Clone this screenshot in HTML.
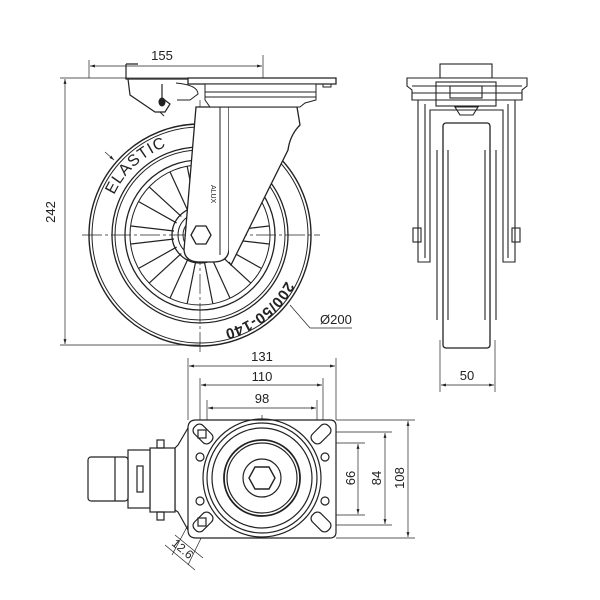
<!DOCTYPE html>
<html><head><style>html,body{margin:0;padding:0;background:#fff}svg{display:block}</style></head>
<body>
<svg width="600" height="600" viewBox="0 0 600 600" xmlns="http://www.w3.org/2000/svg" font-family="Liberation Sans, sans-serif" fill="none" stroke="#222" stroke-width="1">
<defs>
<marker id="a" viewBox="0 0 10 10" refX="10" refY="5" markerWidth="7" markerHeight="7" orient="auto-start-reverse"><path d="M0,2 L10,5 L0,8z" fill="#222" stroke="none"/></marker>
<path id="elp" d="M 114 195 A 95 95 0 0 1 168 146"/>
<path id="tp" d="M 286 281 A 97 97 0 0 1 212 332"/>
</defs>
<g stroke-width="0.7">
<line x1="89" y1="60" x2="89" y2="78"/><line x1="263" y1="55" x2="263" y2="85"/>
<line x1="90" y1="66" x2="262" y2="66" marker-start="url(#a)" marker-end="url(#a)"/>
<line x1="60" y1="78" x2="190" y2="78"/><line x1="60" y1="345" x2="200" y2="345"/>
<line x1="65" y1="79" x2="65" y2="344" marker-start="url(#a)" marker-end="url(#a)"/>
<line x1="82" y1="235" x2="320" y2="235" stroke-dasharray="20,3,3,3"/>
<line x1="200" y1="100" x2="200" y2="352" stroke-dasharray="20,3,3,3"/>
<line x1="290" y1="305" x2="310" y2="328"/><line x1="310" y1="328" x2="352" y2="328"/>
<line x1="105" y1="152" x2="114" y2="160" marker-end="url(#a)"/>
</g>
<g fill="#222" stroke="none" font-size="13">
<text x="162" y="60" text-anchor="middle">155</text>
<text transform="translate(55,212) rotate(-90)" text-anchor="middle">242</text>
<text x="320" y="324">Ø200</text>
<text font-size="16" letter-spacing="1"><textPath href="#elp" startOffset="0">ELASTIC</textPath></text>
<text font-size="15" font-weight="bold" letter-spacing="0.5"><textPath href="#tp" startOffset="0">200/50-140</textPath></text>
</g>
<circle cx="200" cy="235" r="111" stroke-width="1.4"/>
<circle cx="200" cy="235" r="108"/>
<circle cx="200" cy="235" r="88" stroke-width="1.3"/>
<circle cx="200" cy="235" r="85"/>
<circle cx="200" cy="235" r="75" stroke-width="1.3"/>
<circle cx="200" cy="235" r="70"/>
<circle cx="200" cy="235" r="28" stroke-width="1.3"/>
<circle cx="200" cy="235" r="22"/>
<circle cx="200" cy="235" r="17"/>
<g stroke-width="1.2">
<g id="sp"><line x1="226" y1="231" x2="269" y2="226"/><line x1="226" y1="239" x2="269" y2="244"/></g>
<use href="#sp" transform="rotate(36 200 235)"/><use href="#sp" transform="rotate(72 200 235)"/>
<use href="#sp" transform="rotate(108 200 235)"/><use href="#sp" transform="rotate(144 200 235)"/>
<use href="#sp" transform="rotate(180 200 235)"/><use href="#sp" transform="rotate(216 200 235)"/>
<use href="#sp" transform="rotate(252 200 235)"/><use href="#sp" transform="rotate(288 200 235)"/>
<use href="#sp" transform="rotate(324 200 235)"/>
</g>
<path d="M196 107 L229 107 L229 248 Q229 262 213 262 L200 262 Q185 262 184 250 Z" fill="#fff" stroke-width="1.3"/>
<path d="M229 107 L297 107 L300 125 Q290 135 288 150 L231 265 L229 262" fill="#fff" stroke-width="1.3"/>
<line x1="220" y1="107" x2="220" y2="255"/>
<polygon points="191,235 196,226 206,226 211,235 206,244 196,244" fill="#fff" stroke-width="1.3"/>
<text x="0" y="0" transform="translate(211,185) rotate(90)" font-size="7" fill="#222" stroke="none">ALUX</text>
<path d="M188 78 L336 78 L336 84 L188 84 Z" fill="#fff" stroke-width="1.3"/>
<path d="M205 84 L316 84 L316 100 L305 103 L300 107 L210 107 L205 100 Z" fill="#fff"/>
<line x1="205" y1="92" x2="316" y2="92"/><line x1="205" y1="97" x2="316" y2="97"/>
<rect x="323" y="84" width="8" height="3"/>
<path d="M126 64 L138 64 M126 64 L126 79 L188 79 M128 79 L130 95 L155 112 L165 112 L170 104 L162 98 L162 84" stroke-width="1.2"/>
<path d="M176 83 Q198 85 198 94 L190 100 L177 100" />
<ellipse cx="162" cy="102" rx="3" ry="4" fill="#222"/>
<line x1="160" y1="112" x2="164" y2="116"/>
<g stroke-width="1.1">
<rect x="440" y="64" width="52" height="14" fill="#fff"/>
<path d="M407 78 L527 78 L527 86 L522 90 L522 100 L412 100 L412 90 L407 86 Z" fill="#fff"/>
<line x1="412" y1="86" x2="522" y2="86"/><line x1="412" y1="93" x2="522" y2="93"/>
<rect x="436" y="82" width="60" height="24"/>
<rect x="450" y="86" width="32" height="12"/>
<path d="M418 100 L418 262 L430 262 L430 110 L503 110 L503 262 L515 262 L515 100"/>
<path d="M425 104 L425 258 M508 104 L508 258"/>
<rect x="413" y="228" width="8" height="14"/><rect x="512" y="228" width="8" height="14"/>
<path d="M455 107 L478 107 L473 115 L460 115 Z"/>
<rect x="443" y="123" width="47" height="225" rx="3" fill="#fff" stroke-width="1.3"/>
<line x1="448" y1="150" x2="448" y2="320"/><line x1="485" y1="150" x2="485" y2="320"/>
<line x1="437" y1="150" x2="437" y2="320"/><line x1="496" y1="150" x2="496" y2="320"/>
</g>
<g stroke-width="0.7">
<line x1="440" y1="340" x2="440" y2="392"/><line x1="495" y1="340" x2="495" y2="392"/>
<line x1="441" y1="385" x2="494" y2="385" marker-start="url(#a)" marker-end="url(#a)"/>
</g>
<text x="467" y="380" font-size="13" fill="#222" stroke="none" text-anchor="middle">50</text>
<g stroke-width="0.7">
<line x1="188" y1="358" x2="188" y2="420"/><line x1="336" y1="358" x2="336" y2="420"/>
<line x1="189" y1="366" x2="335" y2="366" marker-start="url(#a)" marker-end="url(#a)"/>
<line x1="200" y1="378" x2="200" y2="432"/><line x1="323" y1="378" x2="323" y2="432"/>
<line x1="201" y1="385" x2="322" y2="385" marker-start="url(#a)" marker-end="url(#a)"/>
<line x1="207" y1="400" x2="207" y2="438"/><line x1="317" y1="400" x2="317" y2="438"/>
<line x1="208" y1="408" x2="316" y2="408" marker-start="url(#a)" marker-end="url(#a)"/>
<line x1="336" y1="420" x2="415" y2="420"/><line x1="336" y1="538" x2="415" y2="538"/>
<line x1="408" y1="421" x2="408" y2="537" marker-start="url(#a)" marker-end="url(#a)"/>
<line x1="325" y1="432" x2="392" y2="432"/><line x1="325" y1="525" x2="392" y2="525"/>
<line x1="385" y1="433" x2="385" y2="524" marker-start="url(#a)" marker-end="url(#a)"/>
<line x1="325" y1="443" x2="365" y2="443"/><line x1="325" y1="515" x2="365" y2="515"/>
<line x1="358" y1="444" x2="358" y2="514" marker-start="url(#a)" marker-end="url(#a)"/>
<line x1="262" y1="415" x2="262" y2="540" stroke-dasharray="12,3,3,3"/>
<line x1="195" y1="478" x2="330" y2="478" stroke-dasharray="12,3,3,3"/>
<line x1="165" y1="545" x2="195" y2="570"/><line x1="175" y1="535" x2="203" y2="558"/>
<line x1="188" y1="525" x2="172" y2="555"/><line x1="205" y1="530" x2="188" y2="565"/>
</g>
<g fill="#222" stroke="none" font-size="13" text-anchor="middle">
<text x="262" y="361">131</text><text x="262" y="381">110</text><text x="262" y="403">98</text>
<text transform="translate(355,478) rotate(-90)">66</text>
<text transform="translate(381,478) rotate(-90)">84</text>
<text transform="translate(404,478) rotate(-90)">108</text>
<text transform="translate(180,552) rotate(40)" font-size="12">12.6</text>
</g>
<g stroke-width="1.2">
<path d="M196 420 L330 420 Q336 420 336 426 L336 532 Q336 538 330 538 L196 538 Q188 538 188 530 L188 428 Q188 420 196 420 Z" fill="#fff"/>
<circle cx="262" cy="478" r="59"/><circle cx="262" cy="478" r="55"/>
<circle cx="262" cy="478" r="50"/><circle cx="262" cy="478" r="38" stroke-width="1.8"/>
<circle cx="262" cy="478" r="35"/><circle cx="262" cy="478" r="19"/>
<polygon points="249,478 255,467 269,467 275,478 269,489 255,489" stroke-width="1.4"/>
<circle cx="200" cy="457" r="4"/><circle cx="200" cy="501" r="4"/>
<circle cx="325" cy="457" r="4"/><circle cx="325" cy="501" r="4"/>
<rect x="192" y="428" width="22" height="12" rx="5" transform="rotate(45 203 434)"/>
<rect x="310" y="428" width="22" height="12" rx="5" transform="rotate(-45 321 434)"/>
<rect x="192" y="516" width="22" height="12" rx="5" transform="rotate(-45 203 522)"/>
<rect x="310" y="516" width="22" height="12" rx="5" transform="rotate(45 321 522)"/>
<rect x="198" y="430" width="8" height="8"/><rect x="198" y="518" width="8" height="8"/>
<path d="M188 428 L178 445 L175 448 L175 510 L178 512 L188 530"/>
<rect x="150" y="448" width="25" height="64" fill="#fff"/>
<rect x="128" y="450" width="22" height="58" fill="#fff"/>
<rect x="88" y="457" width="40" height="44" rx="3" fill="#fff"/>
<line x1="115" y1="457" x2="115" y2="501"/>
<rect x="137" y="466" width="6" height="26"/>
<rect x="157" y="440" width="7" height="8"/><rect x="157" y="512" width="7" height="8"/>
</g>
</svg>
</body></html>
